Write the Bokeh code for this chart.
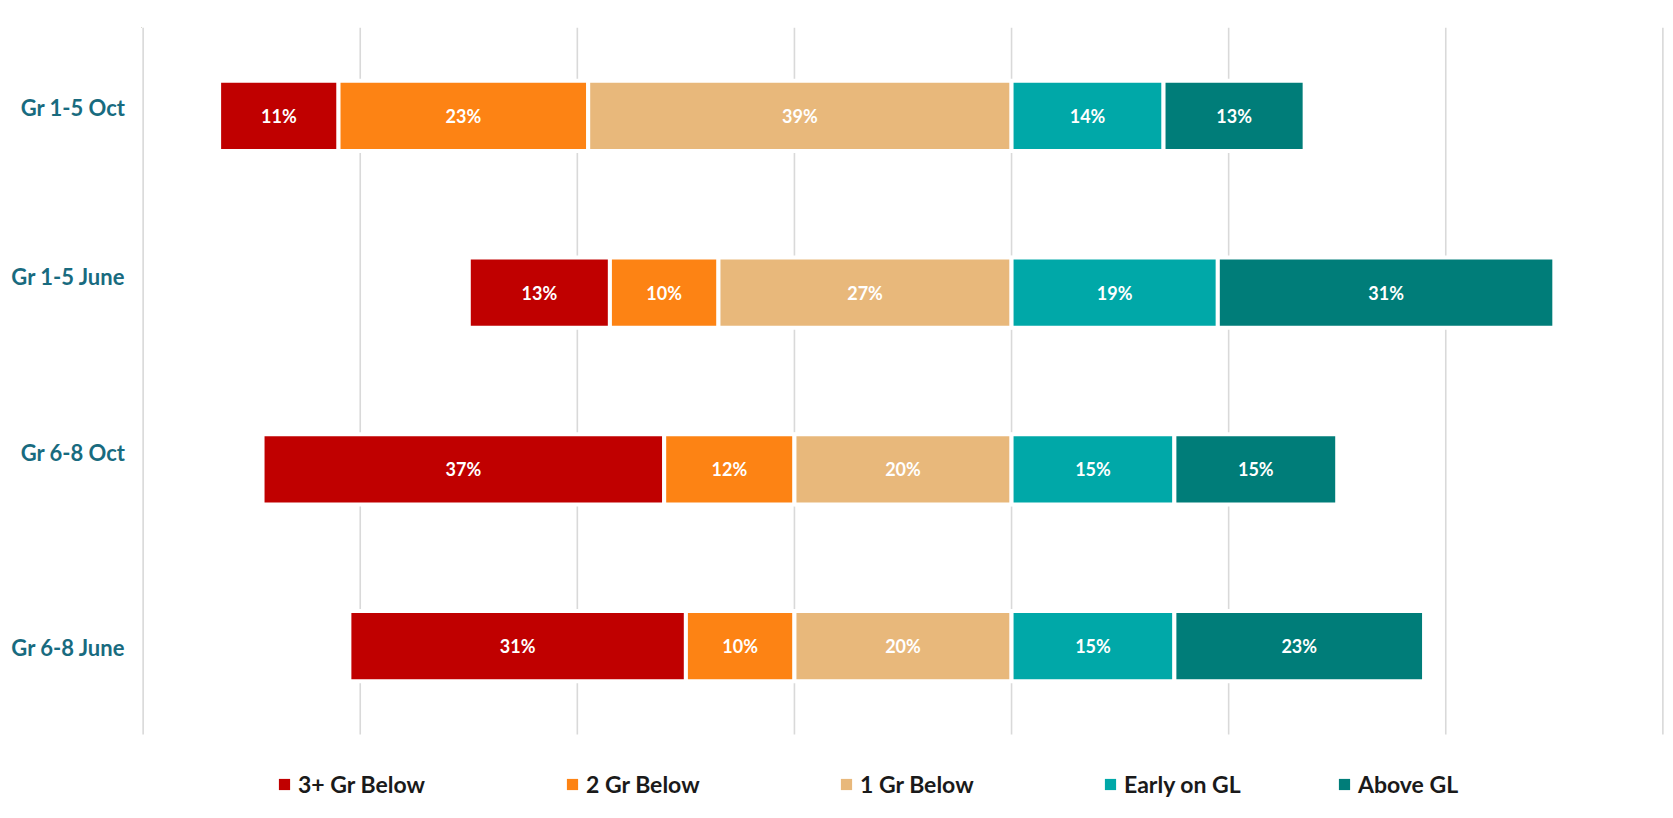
from bokeh.plotting import figure
from bokeh.models import (Range1d, FixedTicker, Legend, LegendItem, ColumnDataSource)
from bokeh.core.properties import value
from bokeh.embed import file_html
from bokeh.resources import INLINE

# ---- data ----
groups = ["Gr 1-5 Oct", "Gr 1-5 June", "Gr 6-8 Oct", "Gr 6-8 June"]
series_names = ["3+ Gr Below", "2 Gr Below", "1 Gr Below", "Early on GL", "Above GL"]
gr3_below = [11, 13, 37, 31]
gr2_below = [23, 10, 12, 10]
gr1_below = [39, 27, 20, 20]
early_gl = [14, 19, 15, 15]
above_gl = [13, 31, 15, 23]
x_ticks = [-80, -60, -40, -20, 0, 20, 40, 60]

# ---- styles / layout ----
colors = ["#C00000", "#FD8314", "#E8B87B", "#00A8A8", "#007D79"]
FONT = "Lato"
label_dy = [0.05, 0.09, 0.095, -0.01]           # small vertical nudge of group labels (data units)
legend_x = [136, 424, 698, 962, 1196]           # legend item left edges, px from frame left
n = len(groups)
extra = 0.475                                   # room below the bars for the legend (data units)

p = figure(width=1673, height=818, output_backend="svg", toolbar_location=None,
           x_range=Range1d(-80.15, 60.15), y_range=Range1d(n + extra, 0),
           x_axis_location=None,
           min_border_left=141, min_border_right=9, min_border_top=27, min_border_bottom=0)
p.outline_line_color = None
p.background_fill_color = "white"
p.grid.visible = False

# vertical grid lines drawn only over the bar area
p.segment(x0=x_ticks, y0=[0] * len(x_ticks), x1=x_ticks, y1=[n] * len(x_ticks),
          line_color="#D9D9D9", line_width=1.6)

rows = [i + 0.5 for i in range(n)]
tick_pos = [round(y - d, 3) for y, d in zip(rows, label_dy)]
p.yaxis.ticker = FixedTicker(ticks=tick_pos)
p.yaxis.major_label_overrides = {t: g for t, g in zip(tick_pos, groups)}
p.yaxis.axis_line_color = None
p.yaxis.major_tick_line_color = None
p.yaxis.minor_tick_line_color = None
p.yaxis.major_label_standoff = 10
p.yaxis.major_label_text_font = FONT
p.yaxis.major_label_text_font_style = "bold"
p.yaxis.major_label_text_font_size = "22px"
p.yaxis.major_label_text_color = "#186B7F"

neg_series = [(0, gr3_below), (1, gr2_below), (2, gr1_below)]
pos_series = [(3, early_gl), (4, above_gl)]

segs = {k: dict(y=[], left=[], right=[], mid=[], txt=[]) for k in range(5)}
for r, y in enumerate(rows):
    edge = 0
    for k, vals in reversed(neg_series):
        v = vals[r]
        segs[k]["y"].append(y); segs[k]["left"].append(edge - v); segs[k]["right"].append(edge)
        segs[k]["mid"].append(edge - v / 2); segs[k]["txt"].append(f"{v}%")
        edge -= v
    edge = 0
    for k, vals in pos_series:
        v = vals[r]
        segs[k]["y"].append(y); segs[k]["left"].append(edge); segs[k]["right"].append(edge + v)
        segs[k]["mid"].append(edge + v / 2); segs[k]["txt"].append(f"{v}%")
        edge += v

for k in range(5):
    src = ColumnDataSource(segs[k])
    p.hbar(y="y", left="left", right="right", height=0.397, source=src,
           fill_color=colors[k], line_color="white", line_width=4)
    p.text(x="mid", y="y", text="txt", source=src, text_color="white",
           text_font=value(FONT), text_font_style="bold", text_font_size="18px",
           text_align="center", text_baseline="middle")

# legend swatches (off-screen proxies without white outline)
for k in range(5):
    dummy = p.hbar(y=[-100], left=[-1000], right=[-999], height=0.3,
                   fill_color=colors[k], line_color=None)
    leg = Legend(items=[LegendItem(label=series_names[k], renderers=[dummy])],
                 orientation="horizontal", location=(legend_x[k], 20),
                 glyph_width=14, glyph_height=14, label_standoff=7,
                 padding=0, margin=0, border_line_color=None, background_fill_alpha=0,
                 label_text_font=FONT, label_text_font_style="bold",
                 label_text_font_size="23px", label_text_color="#1A1A1A")
    p.add_layout(leg, "center")

open("out.html", "w").write(file_html(p, INLINE))
